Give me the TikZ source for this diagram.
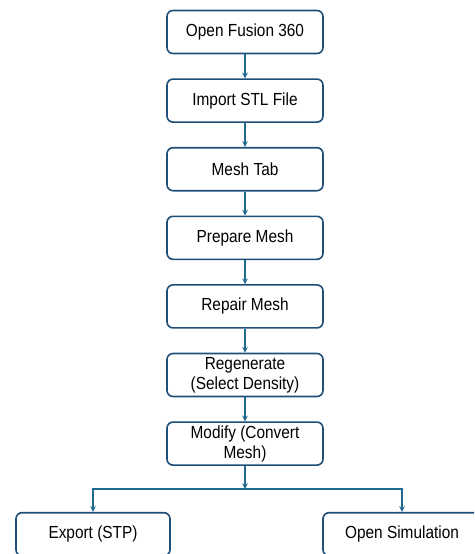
\documentclass[tikz,border=0pt]{standalone}
\usepackage{fontspec}
\setmainfont[FakeStretch=0.88]{Liberation Sans}
\usetikzlibrary{arrows, positioning}
\definecolor{boxnavy}{RGB}{31,78,121}
\definecolor{arrowteal}{RGB}{31,104,142}

\begin{document}
\begin{tikzpicture}[
    x=1pt, y=-1pt,
    node distance=24pt,
    every node/.style={font=\fontsize{17.5}{20}\selectfont},
    stepbox/.style={rectangle, rounded corners=6pt, minimum width=156pt, minimum height=43pt,
                    inner sep=1pt, align=center, draw=boxnavy, line width=1.6pt, fill=white},
    arrow/.style={->, >=stealth, line width=1.5pt, draw=arrowteal}
]
\clip (0,0) rectangle (474,554);
\useasboundingbox (0,0) rectangle (474,554);

\node (open) [stepbox] at (245,32) {Open Fusion 360};
\node (import) [stepbox, below=of open] {Import STL File};
\node (meshtab) [stepbox, below=of import] {Mesh Tab};
\node (prepare) [stepbox, below=of meshtab] {Prepare Mesh};
\node (repair) [stepbox, below=of prepare] {Repair Mesh};
\node (regen) [stepbox, below=of repair] {Regenerate\\(Select Density)};
\node (modify) [stepbox, below=of regen] {Modify (Convert\\Mesh)};
\node (export) [stepbox, minimum width=154pt, below=of modify, xshift=-152pt, yshift=-22pt] {Export (STP)};
\node (simulate) [stepbox, minimum width=158pt, below=of modify, xshift=157pt, yshift=-22pt] {Open Simulation};
\coordinate (split) at (245,489);

\draw [arrow] (open) -- (import);
\draw [arrow] (import) -- (meshtab);
\draw [arrow] (meshtab) -- (prepare);
\draw [arrow] (prepare) -- (repair);
\draw [arrow] (repair) -- (regen);
\draw [arrow] (regen) -- (modify);
\draw [arrow] (modify) -- (split);
\draw [arrow] (split) -| (export);
\draw [arrow] (split) -| (simulate);

\end{tikzpicture}
\end{document}
